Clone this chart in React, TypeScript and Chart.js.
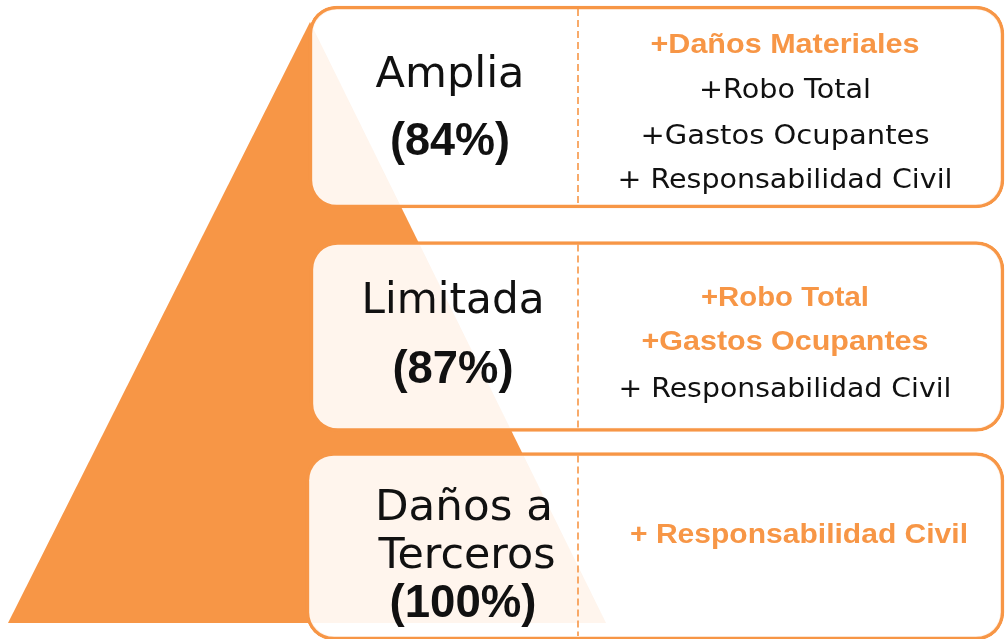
import React, { useEffect, useRef } from 'react';
import { Chart, registerables } from 'chart.js';

Chart.register(...registerables);

// ---------- data ----------
const tierNames: string[][] = [['Amplia'], ['Limitada'], ['Daños a', 'Terceros']];
const tierShares: number[] = [84, 87, 100];
const tierCoverages: string[][] = [
  ['+Daños Materiales', '+Robo Total', '+Gastos Ocupantes', '+ Responsabilidad Civil'],
  ['+Robo Total', '+Gastos Ocupantes', '+ Responsabilidad Civil'],
  ['+ Responsabilidad Civil'],
];
// how many coverages at the top of each list are highlighted (new at that tier)
const tierHighlightCount: number[] = [1, 2, 1];

// ---------- layout / style ----------
const W = 1005;
const H = 639;
const ORANGE = '#F79646';
const INK = '#111111';
const pyramidX = [8, 310, 606];
const pyramidY = [623, 22, 623];
const boxLeft = [309, 310, 306];
const boxRight = 1004;
const boxTop = [6, 241.5, 452.5];
const boxBottom = [208, 431.5, 640];
const dividerX = 578;
const nameCenters = [[450], [453], [464, 467]];
const nameBaselines = [[87], [313], [520, 568]];
const nameWidths = [[149], [183], [178, 177]];
const shareCenters = [450, 453, 463];
const shareBaselines = [155, 383, 617];
const shareWidths = [120, 121, 147];
const covCenters = [785, 785, 799];
const covBaselines = [[53, 98, 144, 188], [306, 350, 397], [543]];
const covWidths = [[269, 172, 289, 335], [168, 287, 333], [338]];

const FONT_NAME = '43px "DejaVu Sans"';
const FONT_SHARE = 'bold 46px "Liberation Sans"';
const FONT_COV = '26px "DejaVu Sans"';
const FONT_COV_BOLD = 'bold 27px "Liberation Sans"';

function drawFitted(
  ctx: CanvasRenderingContext2D,
  text: string,
  cx: number,
  baseline: number,
  width: number,
  font: string,
  color: string
) {
  ctx.save();
  ctx.font = font;
  ctx.fillStyle = color;
  ctx.textAlign = 'center';
  ctx.textBaseline = 'alphabetic';
  const m = ctx.measureText(text).width || 1;
  ctx.translate(cx, baseline);
  ctx.scale(width / m, 1);
  ctx.fillText(text, 0, 0);
  ctx.restore();
}

const textPlugin = {
  id: 'pyramidText',
  afterDatasetsDraw(chart: any) {
    const ctx: CanvasRenderingContext2D = chart.ctx;
    const xs = chart.scales.x;
    const ys = chart.scales.y;
    tierNames.forEach((lines, t) => {
      lines.forEach((line, j) => {
        drawFitted(
          ctx,
          line,
          xs.getPixelForValue(nameCenters[t][j]),
          ys.getPixelForValue(nameBaselines[t][j]),
          nameWidths[t][j],
          FONT_NAME,
          INK
        );
      });
      drawFitted(
        ctx,
        `(${tierShares[t]}%)`,
        xs.getPixelForValue(shareCenters[t]),
        ys.getPixelForValue(shareBaselines[t]),
        shareWidths[t],
        FONT_SHARE,
        INK
      );
      tierCoverages[t].forEach((c, j) => {
        const hl = j < tierHighlightCount[t];
        drawFitted(
          ctx,
          c,
          xs.getPixelForValue(covCenters[t]),
          ys.getPixelForValue(covBaselines[t][j]),
          covWidths[t][j],
          hl ? FONT_COV_BOLD : FONT_COV,
          hl ? ORANGE : INK
        );
      });
    });
  },
};

export default function App() {
  const ref = useRef<HTMLCanvasElement | null>(null);

  useEffect(() => {
    if (!ref.current) return;

    const boxDatasets = tierNames.map((_, i) => ({
      type: 'bar' as const,
      indexAxis: 'y' as const,
      data: [{ x: [boxLeft[i], boxRight], y: (boxTop[i] + boxBottom[i]) / 2 }],
      barThickness: boxBottom[i] - boxTop[i],
      grouped: false,
      borderRadius: 28,
      borderSkipped: false,
      borderWidth: 3.5,
      borderColor: ORANGE,
      backgroundColor: 'rgba(255,255,255,0.9)',
      order: 2,
    }));

    const dividerData: any[] = [];
    tierNames.forEach((_, i) => {
      dividerData.push({ x: dividerX, y: boxTop[i] + 3 });
      dividerData.push({ x: dividerX, y: Math.min(boxBottom[i], H) - 3 });
      dividerData.push({ x: dividerX, y: null });
    });

    const chart = new Chart(ref.current, {
      type: 'scatter',
      data: {
        datasets: [
          {
            type: 'line',
            data: pyramidX.map((x, i) => ({ x, y: pyramidY[i] })),
            fill: { value: pyramidY[0] },
            backgroundColor: ORANGE,
            borderColor: ORANGE,
            borderWidth: 0,
            pointRadius: 0,
            tension: 0,
            order: 3,
          } as any,
          ...(boxDatasets as any[]),
          {
            type: 'line',
            data: dividerData,
            borderColor: ORANGE,
            borderWidth: 1.6,
            borderDash: [7, 4],
            pointRadius: 0,
            fill: false,
            spanGaps: false,
            order: 1,
          } as any,
        ],
      },
      options: {
        responsive: false,
        animation: false,
        layout: { padding: 0 },
        plugins: {
          legend: { display: false },
          tooltip: { enabled: false },
        },
        scales: {
          x: { type: 'linear', min: 0, max: W, display: false, offset: false, grace: 0 },
          y: { type: 'linear', min: 0, max: H, reverse: true, display: false, offset: false, grace: 0 },
        },
      } as any,
      plugins: [textPlugin],
    });

    return () => chart.destroy();
  }, []);

  return (
    <div style={{ position: 'absolute', left: 0, top: 0, width: W, height: H, background: '#ffffff' }}>
      <canvas ref={ref} width={W} height={H} style={{ display: 'block', width: W, height: H }} />
    </div>
  );
}
